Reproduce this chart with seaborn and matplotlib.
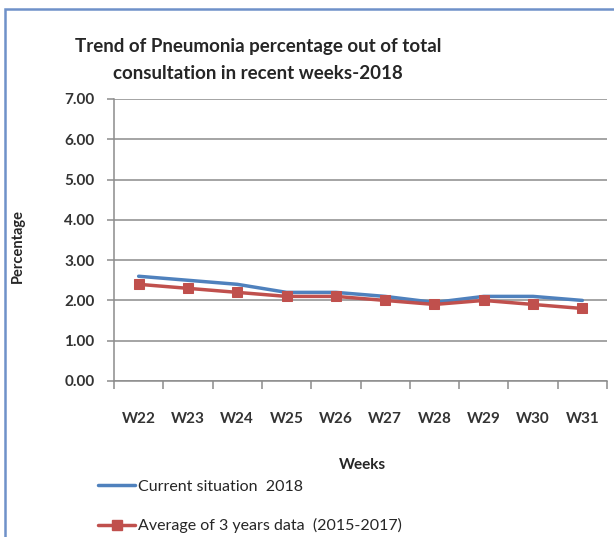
import matplotlib
matplotlib.use("Agg")
import matplotlib.pyplot as plt
import matplotlib.ticker as mticker
from matplotlib.lines import Line2D
from matplotlib.patches import Rectangle
import pandas as pd
import seaborn as sns

# Chart data
weeks = ["W22", "W23", "W24", "W25", "W26", "W27", "W28", "W29", "W30", "W31"]
current_2018 = [2.6, 2.5, 2.4, 2.2, 2.2, 2.1, 1.95, 2.1, 2.1, 2.0]
avg_2015_2017 = [2.4, 2.3, 2.2, 2.1, 2.1, 2.0, 1.9, 2.0, 1.9, 1.8]
y_ticks = [0, 1, 2, 3, 4, 5, 6, 7]

label_current = "Current situation  2018"
label_avg = "Average of 3 years data  (2015-2017)"

df = pd.DataFrame({"Week": weeks, "current": current_2018, "avg": avg_2015_2017})

sns.set_style("white")
plt.rcParams["font.family"] = ["Lato", "DejaVu Sans"]

blue = "#4f81bd"
red = "#c0504d"
grey = "#8c8c8c"

fig = plt.figure(figsize=(6.14, 5.37), dpi=100)
ax = fig.add_axes([114 / 614, 1 - 381 / 537, 493 / 614, 282 / 537])

sns.lineplot(data=df, x="Week", y="current", ax=ax, color=blue, linewidth=2.5,
             sort=False, zorder=3)
sns.lineplot(data=df, x="Week", y="avg", ax=ax, color=red, linewidth=2.5,
             marker="s", markersize=7.5, markeredgecolor=red, sort=False, zorder=4)

ax.set_xlim(-0.5, len(weeks) - 0.5)
ax.set_ylim(0, 7)
ax.set_yticks(y_ticks)
ax.yaxis.set_major_formatter(mticker.FormatStrFormatter("%.2f"))
ax.set_xticks(range(len(weeks)))
ax.set_xticklabels(weeks)
ax.xaxis.set_minor_locator(mticker.FixedLocator([i - 0.5 for i in range(len(weeks) + 1)]))

ax.grid(axis="y", color=grey, linewidth=1.1)
ax.grid(axis="x", visible=False)
for s in ["top", "right"]:
    ax.spines[s].set_visible(False)
for s in ["left", "bottom"]:
    ax.spines[s].set_color(grey)
    ax.spines[s].set_linewidth(1.1)

ax.tick_params(axis="y", which="major", length=5, width=1.1, color=grey,
               labelsize=11, pad=9, labelcolor="#333333", left=True)
ax.tick_params(axis="x", which="major", length=0, labelsize=11, pad=22,
               labelcolor="#333333")
ax.tick_params(axis="x", which="minor", length=6, width=1.1, color=grey,
               bottom=True, direction="out")
for t in ax.get_xticklabels() + ax.get_yticklabels():
    t.set_fontweight("bold")

ax.set_xlabel("Weeks", fontsize=11, fontweight="bold")
ax.xaxis.set_label_coords(248 / 493, -(458 - 381) / 282)
ax.set_ylabel("Percentage", fontsize=10.5, fontweight="bold")
ax.yaxis.set_label_coords(-(114 - 25) / 493, (381 - 246) / 282)

fig.text(258 / 614, 1 - 60 / 537, "Trend of Pneumonia percentage out of total\nconsultation in recent weeks-2018",
         ha="center", va="center", fontsize=13.5, fontweight="bold", linespacing=1.7)

handles = [
    Line2D([], [], color=blue, linewidth=2.5),
    Line2D([], [], color=red, linewidth=2.5, marker="s", markersize=7.5),
]
fig.legend(handles, [label_current, label_avg], loc="upper left",
           bbox_to_anchor=(84 / 614, 1 - 465 / 537), frameon=False,
           fontsize=11.5, handlelength=2.3, handletextpad=0.2, labelspacing=1.55)

fig.patches.append(Rectangle((5 / 614, -0.1), 1.2, 1.1 - 9 / 537, transform=fig.transFigure,
                             fill=False, edgecolor="#6f91c9", linewidth=1.8))

fig.savefig("out.png", dpi=100)
